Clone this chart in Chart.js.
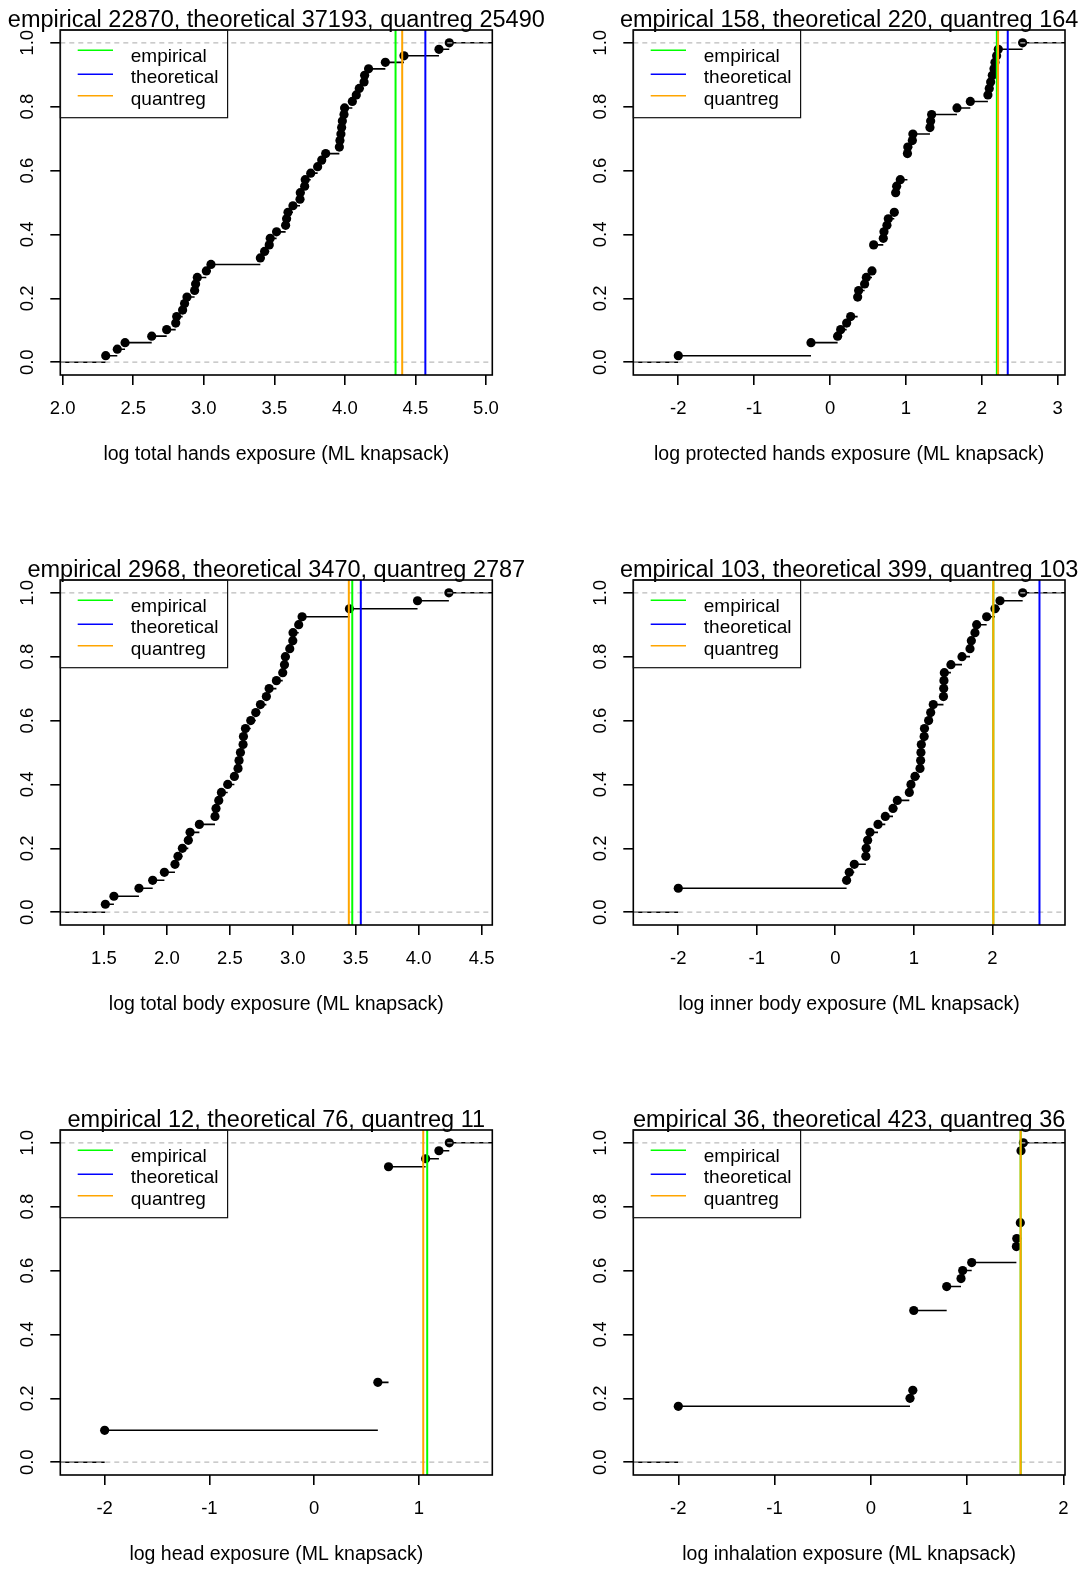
<!DOCTYPE html>
<html>
<head>
<meta charset="utf-8">
<script src="https://cdn.jsdelivr.net/npm/chart.js@4.4.1/dist/chart.umd.min.js"></script>
<style>
  html, body { margin: 0; padding: 0; background: #fff; }
  #wrap { position: relative; width: 1084px; height: 1570px; overflow: hidden; background: #fff; }
  #wrap canvas { position: absolute; }
</style>
</head>
<body>
<div id="wrap"></div>
<script>
// log10 exposure values (ML knapsack), one sample per panel
const handsTotal = [2.305, 2.387, 2.442, 2.631, 2.737, 2.801, 2.808, 2.850, 2.864, 2.881,
  2.935, 2.942, 2.954, 3.018, 3.051, 3.401, 3.431, 3.464, 3.471, 3.516,
  3.580, 3.587, 3.597, 3.632, 3.682, 3.684, 3.715, 3.719, 3.758, 3.807,
  3.836, 3.864, 3.961, 3.965, 3.972, 3.977, 3.982, 3.994, 3.998, 4.053,
  4.081, 4.102, 4.136, 4.140, 4.168, 4.287, 4.419, 4.667, 4.740];
const handsProtected = [-2.000, -0.251, -0.251, 0.100, 0.140, 0.219, 0.272, 0.364, 0.364, 0.364,
  0.377, 0.456, 0.478, 0.553, 0.575, 0.575, 0.575, 0.575, 0.702, 0.711,
  0.750, 0.768, 0.847, 0.865, 0.865, 0.865, 0.878, 0.926, 1.020, 1.020,
  1.020, 1.020, 1.025, 1.085, 1.092, 1.317, 1.326, 1.339, 1.673, 1.849,
  2.081, 2.099, 2.117, 2.139, 2.161, 2.174, 2.196, 2.218, 2.538];
const bodyTotal = [1.511, 1.579, 1.778, 1.887, 1.980, 2.064, 2.088, 2.123, 2.170, 2.184,
  2.258, 2.382, 2.390, 2.412, 2.433, 2.483, 2.536, 2.565, 2.573, 2.584,
  2.605, 2.608, 2.624, 2.666, 2.706, 2.743, 2.790, 2.812, 2.870, 2.920,
  2.934, 2.941, 2.976, 3.000, 3.002, 3.047, 3.074, 3.450, 3.991, 4.240];
const bodyInner = [-2.000, -2.000, -2.000, 0.144, 0.178, 0.242, 0.389, 0.393, 0.412, 0.442,
  0.544, 0.637, 0.735, 0.790, 0.943, 0.964, 1.015, 1.079, 1.087, 1.091,
  1.096, 1.132, 1.136, 1.189, 1.215, 1.248, 1.378, 1.381, 1.384, 1.389,
  1.473, 1.614, 1.716, 1.733, 1.779, 1.801, 1.928, 2.034, 2.098, 2.387];
const head = [-2.000, -2.000, -2.000, -2.000, 0.608, 0.608, 0.608, 0.608, 0.608, 0.608,
  0.710, 0.710, 0.710, 0.710, 0.710, 0.710, 0.710, 0.710, 0.710, 0.710,
  0.710, 0.710, 0.710, 0.710, 0.710, 0.710, 0.710, 0.710, 0.710, 0.710,
  0.710, 0.710, 0.710, 0.710, 0.710, 0.710, 0.710, 1.064, 1.191, 1.290];
const inhalation = [-2.000, -2.000, -2.000, -2.000, -2.000, -2.000, -2.000, 0.407, 0.436, 0.446,
  0.446, 0.446, 0.446, 0.446, 0.446, 0.446, 0.446, 0.446, 0.446, 0.788,
  0.788, 0.788, 0.937, 0.954, 1.048, 1.512, 1.512, 1.516, 1.553, 1.553,
  1.560, 1.560, 1.560, 1.560, 1.560, 1.560, 1.560, 1.560, 1.560, 1.584];

const empiricalVals = [22870, 158, 2968, 103, 12, 36];
const theoreticalVals = [37193, 220, 3470, 399, 76, 423];
const quantregVals = [25490, 164, 2787, 103, 11, 36];

const xLabels = [
  'log total hands exposure (ML knapsack)',
  'log protected hands exposure (ML knapsack)',
  'log total body exposure (ML knapsack)',
  'log inner body exposure (ML knapsack)',
  'log head exposure (ML knapsack)',
  'log inhalation exposure (ML knapsack)'
];
const xTicks = [
  [2.0, 2.5, 3.0, 3.5, 4.0, 4.5, 5.0],
  [-2, -1, 0, 1, 2, 3],
  [1.5, 2.0, 2.5, 3.0, 3.5, 4.0, 4.5],
  [-2, -1, 0, 1, 2],
  [-2, -1, 0, 1],
  [-2, -1, 0, 1, 2]
];
const xDecimals = [1, 0, 1, 0, 0, 0];
const xRanges = [[1.983, 5.045], [-2.593, 3.097], [1.153, 4.585], [-2.573, 2.926], [-2.4235, 1.7006], [-2.4675, 2.017]];
const yTicks = [0, 0.2, 0.4, 0.6, 0.8, 1.0];
const yRange = [-0.04, 1.04];
const legendLabels = ['empirical', 'theoretical', 'quantreg'];
const lineColors = ['#00ff00', '#0000ff', '#ffa500'];

const panelData = [handsTotal, handsProtected, bodyTotal, bodyInner, head, inhalation];

const FONT = "'Liberation Sans', Arial, Helvetica, sans-serif";

// page geometry (R mfrow 3x2 layout)
const geo = {
  colLeft: [0, 542], colWidth: [560, 542],
  rowTop: [0, 550, 1100], rowHeight: [550, 550, 470],
  boxLeft: [60.3, 91.3], boxRight: [492.3, 523],
  boxTop: 30, boxBottom: 375, yAxisW: 55, xAxisH: 90
};

function ecdf(values) {
  const sorted = [...values].sort((a, b) => a - b);
  const n = sorted.length;
  const knots = [], heights = [];
  sorted.forEach((v, i) => {
    if (knots.length && knots[knots.length - 1] === v) heights[heights.length - 1] = (i + 1) / n;
    else { knots.push(v); heights.push((i + 1) / n); }
  });
  return { knots, heights };
}

// horizontal pieces only, like plot.ecdf(verticals = FALSE)
function stepSegments(knots, heights, xmin, xmax) {
  const out = [{ x: xmin, y: 0 }, { x: knots[0], y: 0 }, { x: knots[0], y: null }];
  knots.forEach((k, i) => {
    const next = i + 1 < knots.length ? knots[i + 1] : xmax;
    out.push({ x: k, y: heights[i] }, { x: next, y: heights[i] }, { x: next, y: null });
  });
  return out;
}

const framePlugin = {
  id: 'framePlugin',
  afterDraw(chart, args, opts) {
    const { ctx, chartArea: a } = chart;
    ctx.save();
    ctx.fillStyle = '#000';
    ctx.font = '23.5px ' + FONT;
    ctx.textAlign = 'center';
    ctx.textBaseline = 'alphabetic';
    ctx.fillText(opts.title, (a.left + a.right) / 2, a.top - 3.5);

    ctx.lineWidth = 1.6;
    ctx.strokeStyle = '#000';
    ctx.strokeRect(a.left, a.top, a.right - a.left, a.bottom - a.top);

    // legend, topleft, transparent background
    const lx = a.left, ly = a.top;
    ctx.lineWidth = 1.2;
    ctx.strokeStyle = '#111';
    ctx.strokeRect(lx, ly, 167.3, 87.7);
    const lineY = [20.3, 44.3, 65.7], textY = [31.7, 53.3, 75];
    ctx.font = '19px ' + FONT;
    ctx.textAlign = 'left';
    legendLabels.forEach((lab, i) => {
      ctx.strokeStyle = lineColors[i];
      ctx.lineWidth = 1.4;
      ctx.beginPath();
      ctx.moveTo(lx + 17.4, ly + lineY[i]);
      ctx.lineTo(lx + 52.7, ly + lineY[i]);
      ctx.stroke();
      ctx.fillStyle = '#000';
      ctx.fillText(lab, lx + 70.5, ly + textY[i]);
    });
    ctx.restore();
  }
};

const wrap = document.getElementById('wrap');

panelData.forEach((values, p) => {
  const col = p % 2, row = Math.floor(p / 2);
  const W = geo.colWidth[col], H = geo.rowHeight[row];
  const canvas = document.createElement('canvas');
  canvas.width = W; canvas.height = H;
  canvas.style.left = geo.colLeft[col] + 'px';
  canvas.style.top = geo.rowTop[row] + 'px';
  canvas.style.width = W + 'px'; canvas.style.height = H + 'px';
  wrap.appendChild(canvas);

  const [xmin, xmax] = xRanges[p];
  const { knots, heights } = ecdf(values);
  const vline = (v, color) => ({
    data: [{ x: Math.log10(v), y: yRange[0] }, { x: Math.log10(v), y: yRange[1] }],
    showLine: true, borderColor: color, borderWidth: 2, pointRadius: 0
  });
  const hline = y => ({
    data: [{ x: xmin, y }, { x: xmax, y }],
    showLine: true, borderColor: '#bbbbbb', borderWidth: 1.3, borderDash: [5, 4], pointRadius: 0
  });
  const tickFont = { family: FONT, size: 18.5 };
  const tickGrid = { drawOnChartArea: false, drawTicks: true, tickLength: 10, tickWidth: 1.6, tickColor: '#000', lineWidth: 1.6 };

  new Chart(canvas, {
    type: 'scatter',
    data: {
      datasets: [
        vline(quantregVals[p], lineColors[2]),
        vline(theoreticalVals[p], lineColors[1]),
        vline(empiricalVals[p], lineColors[0]),
        hline(1),
        hline(0),
        { data: knots.map((k, i) => ({ x: k, y: heights[i] })), pointRadius: 4.6,
          pointBackgroundColor: '#000', pointBorderWidth: 0, showLine: false },
        { data: stepSegments(knots, heights, xmin, xmax), showLine: true, spanGaps: false,
          borderColor: '#000', borderWidth: 1.6, pointRadius: 0 }
      ]
    },
    options: {
      responsive: false, animation: false, events: [],
      layout: { padding: {
        left: geo.boxLeft[col] - geo.yAxisW, right: W - geo.boxRight[col],
        top: geo.boxTop, bottom: H - geo.boxBottom - geo.xAxisH } },
      scales: {
        x: {
          type: 'linear', min: xmin, max: xmax,
          afterBuildTicks: s => { s.ticks = xTicks[p].map(v => ({ value: v })); },
          afterFit: s => { s.height = geo.xAxisH; },
          ticks: { autoSkip: false, maxRotation: 0, minRotation: 0, padding: 13, color: '#000', font: tickFont,
            callback: v => v.toFixed(xDecimals[p]) },
          grid: tickGrid,
          border: { display: false },
          title: { display: true, text: xLabels[p], color: '#000',
            font: { family: FONT, size: 19.5, lineHeight: 1 }, padding: { top: 0, bottom: 0.3 } }
        },
        y: {
          type: 'linear', min: yRange[0], max: yRange[1],
          afterBuildTicks: s => { s.ticks = yTicks.map(v => ({ value: v })); },
          afterFit: s => { s.width = geo.yAxisW; },
          ticks: { minRotation: 90, maxRotation: 90, crossAlign: 'center', padding: 9.5, color: '#000', font: tickFont,
            callback: v => v.toFixed(1) },
          grid: tickGrid,
          border: { display: false }
        }
      },
      plugins: {
        legend: { display: false },
        tooltip: { enabled: false },
        framePlugin: { title: 'empirical ' + empiricalVals[p] + ', theoretical ' + theoreticalVals[p] + ', quantreg ' + quantregVals[p] }
      }
    },
    plugins: [framePlugin]
  });
});
</script>
</body>
</html>
